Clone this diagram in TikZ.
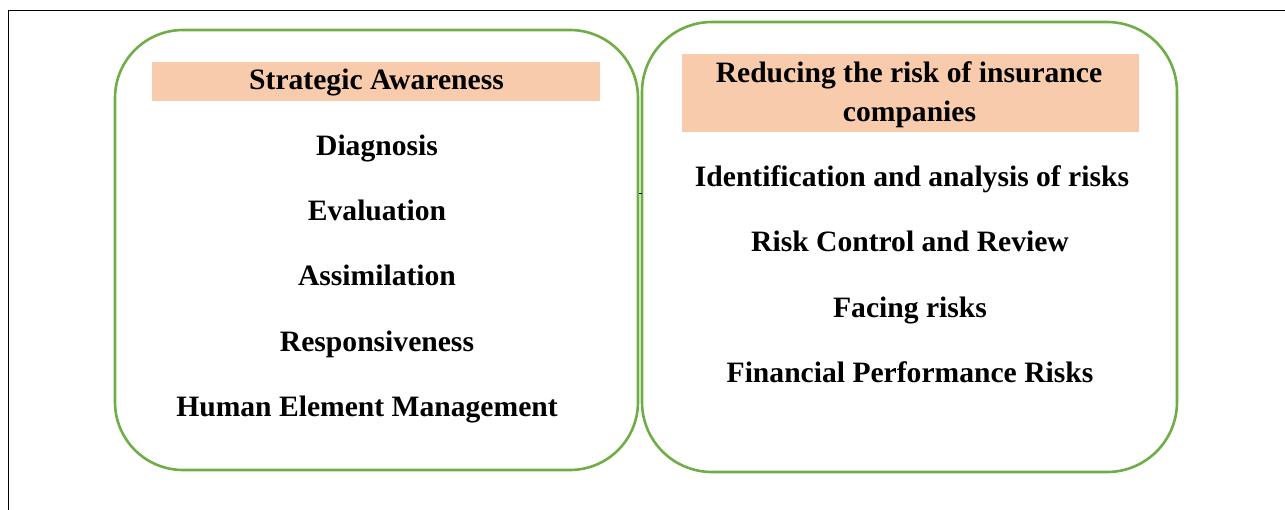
\documentclass[tikz,border=0pt]{standalone}
\usepackage{fontspec}
\setmainfont{Liberation Serif}
\definecolor{leafgreen}{RGB}{112,173,71}
\definecolor{peach}{RGB}{247,203,172}
\begin{document}
\begin{tikzpicture}[x=1pt,y=-1pt,
  panel/.style={draw=leafgreen,line width=2.6pt},
  band/.style={fill=peach,draw=none,inner sep=0pt},
  item/.style={anchor=base,inner sep=0pt,font=\fontsize{29.6}{35}\selectfont\bfseries},
  frame/.style={draw=black,line width=1.4pt}]
\useasboundingbox (0,0) rectangle (1285,509);
% outer frame (top and left edges)
\draw[frame] (8.5,515) -- (8.5,10.5) -- (1290,10.5);
% the two rounded panels
\draw[panel,rounded corners=68pt] (115,30) rectangle (638,470);
\draw[panel,rounded corners=70pt] (642,22) rectangle (1177,472);
% header bands
\node[band,minimum width=448pt,minimum height=39pt] (bandL) at (376,81.5) {};
\node[band,minimum width=457pt,minimum height=78pt] (bandR) at (910.5,93) {};
% left panel text
\node[item] (sa) at (376.5,89.5) {Strategic Awareness};
\node[item] (diag) at (377,155) {Diagnosis};
\node[item] (eval) at (377,220) {Evaluation};
\node[item] (assim) at (377,285.5) {Assimilation};
\node[item] (resp) at (377,351) {Responsiveness};
\node[item] (hem) at (367,416.5) {Human Element Management};
% right panel text
\node[item] (rtA) at (909,82.3) {Reducing the risk of insurance};
\node[item] (rtB) at (909.5,121.7) {companies};
\node[item] (ident) at (912,186) {Identification and analysis of risks};
\node[item] (ctrl) at (910,251.5) {Risk Control and Review};
\node[item] (face) at (910,317) {Facing risks};
\node[item] (fin) at (910,382.5) {Financial Performance Risks};
% small tick between the panels
\coordinate (tickA) at (639,193);
\coordinate (tickB) at (642,193);
\draw[line width=1pt] (tickA) -- (tickB);
\end{tikzpicture}
\end{document}
